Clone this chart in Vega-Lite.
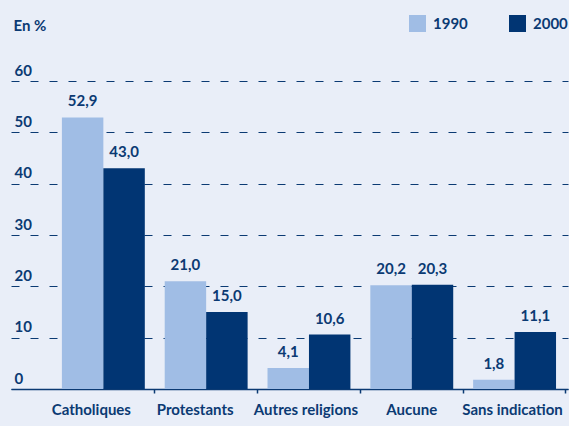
{
  "$schema": "https://vega.github.io/schema/vega-lite/v6.json",
  "width": 557,
  "height": 308,
  "autosize": {"type": "none"},
  "padding": {"left": 11, "top": 81, "right": 1, "bottom": 37},
  "background": "#e9eef8",
  "config": {
    "view": {"stroke": null},
    "font": "Lato",
    "locale": {"number": {"decimal": ",", "thousands": "\u00a0", "grouping": [3], "currency": ["", "\u00a0€"]}}
  },
  "data": {
    "values": [
      {"cat": "Catholiques", "year": "1990", "value": 52.9},
      {"cat": "Catholiques", "year": "2000", "value": 43.0},
      {"cat": "Protestants", "year": "1990", "value": 21.0},
      {"cat": "Protestants", "year": "2000", "value": 15.0},
      {"cat": "Autres religions", "year": "1990", "value": 4.1},
      {"cat": "Autres religions", "year": "2000", "value": 10.6},
      {"cat": "Aucune", "year": "1990", "value": 20.2},
      {"cat": "Aucune", "year": "2000", "value": 20.3},
      {"cat": "Sans indication", "year": "1990", "value": 1.8},
      {"cat": "Sans indication", "year": "2000", "value": 11.1}
    ]
  },
  "encoding": {
    "x": {
      "field": "cat", "type": "nominal", "sort": null,
      "scale": {"paddingInner": 0, "paddingOuter": 0.209, "align": 0.953},
      "axis": {
        "title": null, "labelAngle": 0, "labelFont": "Lato", "labelFontSize": 15, "labelFontWeight": "bold",
        "labelColor": "#0b3a73", "labelPadding": 9, "domainColor": "#0b3a73", "domainWidth": 1.5,
        "tickColor": "#0b3a73", "tickWidth": 1.5, "tickSize": 4, "bandPosition": 1, "grid": false,
        "labelOffset": {
          "condition": [
            {"test": "datum.value === 'Catholiques'", "value": -12},
            {"test": "datum.value === 'Protestants'", "value": -11},
            {"test": "datum.value === 'Autres religions'", "value": -3},
            {"test": "datum.value === 'Sans indication'", "value": -2}
          ],
          "value": 0
        }
      }
    },
    "xOffset": {"field": "year", "type": "nominal", "scale": {"paddingInner": 0, "paddingOuter": 0.24}},
    "y": {
      "field": "value", "type": "quantitative",
      "scale": {"domain": [0, 60], "nice": false},
      "axis": {
        "values": [0, 10, 20, 30, 40, 50, 60],
        "title": "En %", "titleAngle": 0, "titleAlign": "left", "titleBaseline": "alphabetic",
        "titleX": 2, "titleY": -51, "titleFont": "Lato", "titleFontSize": 15, "titleFontWeight": "bold", "titleColor": "#0b3a73",
        "domain": false, "ticks": false, "tickSize": 0,
        "labelAlign": "left", "labelBaseline": "alphabetic", "labelPadding": -3, "labelOffset": -6,
        "labelFont": "Lato", "labelFontSize": 15, "labelFontWeight": "bold", "labelColor": "#0b3a73",
        "grid": true, "gridColor": "#0b3a73", "gridDash": [8, 11], "gridWidth": 1.2
      }
    }
  },
  "layer": [
    {
      "mark": {"type": "bar"},
      "encoding": {
        "color": {
          "field": "year", "type": "nominal",
          "scale": {"domain": ["1990", "2000"], "range": ["#a0bde5", "#013573"]},
          "legend": {
            "orient": "none", "legendX": 398, "legendY": -66, "direction": "horizontal", "title": null,
            "symbolType": "square", "symbolSize": 289, "symbolStrokeWidth": 0,
            "labelFont": "Lato", "labelFontSize": 15, "labelFontWeight": "bold", "labelColor": "#0b3a73",
            "labelOffset": 7, "columnPadding": 41, "padding": 0
          }
        }
      }
    },
    {
      "mark": {"type": "text", "baseline": "alphabetic", "dy": -11, "font": "Lato", "fontSize": 15, "fontWeight": "bold", "color": "#0b3a73"},
      "encoding": {
        "text": {"field": "value", "type": "quantitative", "format": ".1f"}
      }
    }
  ]
}
